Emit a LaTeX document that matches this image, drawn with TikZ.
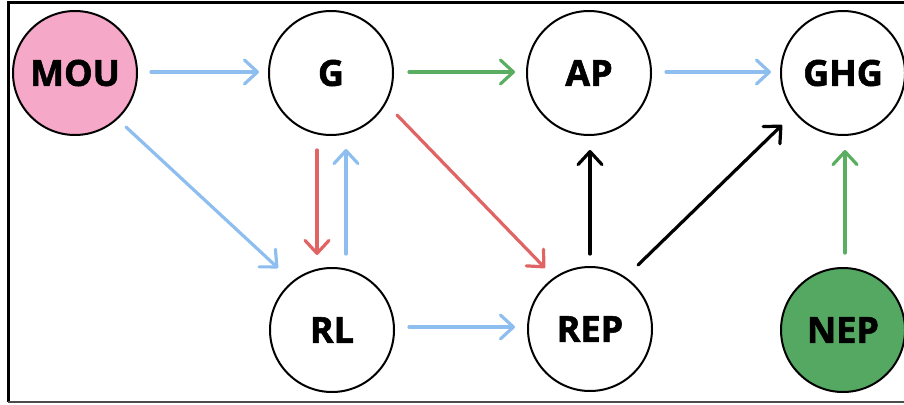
\documentclass[tikz,border=0pt]{standalone}
\usepackage{fontspec}
\setmainfont{Open Sans}[BoldFeatures={FakeBold=1.6}]
\usetikzlibrary{arrows.meta}
\definecolor{eblue}{HTML}{8EBDF0}
\definecolor{ered}{HTML}{E06464}
\definecolor{egreen}{HTML}{5AAE61}
\definecolor{pinkfill}{HTML}{F6A8C9}
\definecolor{greenfill}{HTML}{55A862}
\begin{document}
\begin{tikzpicture}[x=1pt,y=-1pt,
  state/.style={circle,draw=black,line width=2pt,minimum size=124pt,inner sep=0pt,
    font=\fontsize{36}{38}\selectfont\bfseries},
  edge/.style={line width=3.2pt,line cap=round,
    -{Straight Barb[length=13pt,width=24pt,line cap=round,line join=round]}},
  bl/.style={edge,eblue},
  rd/.style={edge,ered},
  gr/.style={edge,egreen},
  bk/.style={edge,black}]
\useasboundingbox (0,0) rectangle (904,404);
\draw[line width=3pt] (8,402) -- (8,2.5) -- (904,2.5);
\draw[line width=2.5pt,black!70] (8,402) -- (904,402);
\node[state,fill=pinkfill] (mou) at (75,73) {MOU};
\node[state] (g) at (331,73) {G};
\node[state] (ap) at (589,73) {AP};
\node[state] (ghg) at (843,73) {GHG};
\node[state] (rl) at (332,330) {RL};
\node[state] (rep) at (590,329) {REP};
\node[state,fill=greenfill] (nep) at (843,330) {NEP};
\coordinate (a1) at (151,72); \coordinate (b1) at (259,72);
\coordinate (a2) at (409,72); \coordinate (b2) at (515,72);
\coordinate (a3) at (666,72); \coordinate (b3) at (771,72);
\coordinate (a4) at (126,127); \coordinate (b4) at (278,268);
\coordinate (a5) at (317,150); \coordinate (b5) at (317,255);
\coordinate (a6) at (346,254); \coordinate (b6) at (346,149);
\coordinate (a7) at (397,115); \coordinate (b7) at (545,268);
\coordinate (a8) at (409,327); \coordinate (b8) at (515,327);
\coordinate (a9) at (590,254); \coordinate (b9) at (590,150);
\coordinate (a10) at (638,265); \coordinate (b10) at (782,125);
\coordinate (a11) at (845,253); \coordinate (b11) at (845,150);
\draw[bl] (a1) -- (b1);
\draw[gr] (a2) -- (b2);
\draw[bl] (a3) -- (b3);
\draw[bl] (a4) -- (b4);
\draw[rd] (a5) -- (b5);
\draw[bl] (a6) -- (b6);
\draw[rd] (a7) -- (b7);
\draw[bl] (a8) -- (b8);
\draw[bk] (a9) -- (b9);
\draw[bk] (a10) -- (b10);
\draw[gr] (a11) -- (b11);
\end{tikzpicture}
\end{document}
